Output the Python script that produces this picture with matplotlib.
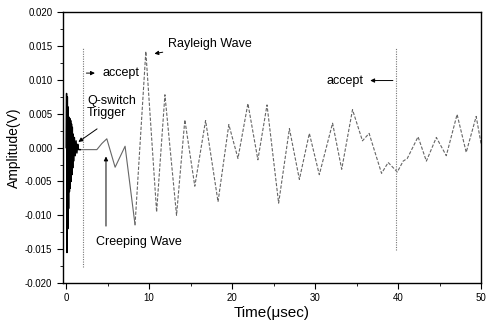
import matplotlib
matplotlib.use("Agg")
import matplotlib.pyplot as plt
from matplotlib.ticker import MultipleLocator, FormatStrFormatter

plt.rcParams['font.family'] = ['Liberation Sans', 'DejaVu Sans']
plt.rcParams['axes.unicode_minus'] = False

# Laser-triggered burst (Q-switch trigger)
burst_t = [0.0, 0.05, 0.1, 0.15, 0.2, 0.25, 0.3, 0.35, 0.4, 0.45, 0.5, 0.55, 0.6,
           0.65, 0.7, 0.75, 0.8, 0.85, 0.9, 1.0, 1.1, 1.2, 1.3, 1.4, 1.5, 1.7]
burst_a = [0.0, 0.008, -0.0155, 0.0075, -0.012, 0.006, -0.009, 0.0045, -0.0065, 0.0043,
           -0.006, 0.004, -0.005, 0.0035, -0.004, 0.003, -0.003, 0.002, -0.002, 0.0015,
           -0.0012, 0.001, -0.0008, 0.0005, -0.0003, -0.0003]

# Creeping wave segment
creep_t = [1.7, 3.7, 4.3, 4.9, 5.9, 7.1, 8.3]
creep_a = [-0.0003, -0.0003, 0.0006, 0.0013, -0.0029, 0.0002, -0.0114]

# Rayleigh wave and later signal (extrema)
wave_t = [8.3, 9.6, 10.9, 11.9, 13.3, 14.3, 15.5, 16.8, 18.3, 19.6, 20.7, 21.9, 23.1,
          24.2, 25.6, 26.9, 28.1, 29.3, 30.5, 32.1, 33.2, 34.5, 35.7, 36.5, 38.0, 38.8,
          39.9, 40.6, 41.1, 42.4, 43.4, 44.6, 45.8, 47.1, 48.2, 49.4, 50.0]
wave_a = [-0.0114, 0.0142, -0.0095, 0.0078, -0.0100, 0.0041, -0.0057, 0.0040, -0.0080,
          0.0034, -0.0016, 0.0065, -0.0018, 0.0063, -0.0082, 0.0028, -0.0047, 0.0021,
          -0.0040, 0.0036, -0.0032, 0.0056, 0.0010, 0.0021, -0.0038, -0.0022, -0.0036,
          -0.0020, -0.0016, 0.0016, -0.0020, 0.0015, -0.0012, 0.0049, -0.0007, 0.0046,
          0.0005]

accept_x = [2.0, 39.8]
accept_lo = [-0.0177, -0.0151]
accept_hi = [0.0147, 0.0147]

fig = plt.figure(figsize=(4.87, 3.28), dpi=100)
ax = fig.add_axes([0.129, 0.137, 0.859, 0.826])

ax.plot(creep_t, creep_a, color='#666666', lw=0.8)
ax.plot(wave_t, wave_a, color='#666666', lw=0.8, linestyle=(0, (3, 1.5)))
ax.plot(burst_t, burst_a, color='black', lw=1.0)

for x, lo, hi in zip(accept_x, accept_lo, accept_hi):
    ax.vlines(x, lo, hi, colors='#777777', linestyles=(0, (1, 1.2)), lw=0.8)

ax.set_xlim(-0.4, 50)
ax.set_ylim(-0.020, 0.020)
ax.xaxis.set_major_locator(MultipleLocator(10))
ax.xaxis.set_minor_locator(MultipleLocator(5))
ax.yaxis.set_major_locator(MultipleLocator(0.005))
ax.yaxis.set_minor_locator(MultipleLocator(0.0025))
ax.yaxis.set_major_formatter(FormatStrFormatter('%.3f'))
ax.tick_params(which='major', direction='out', length=4, width=0.8, labelsize=7)
ax.tick_params(which='minor', direction='out', length=2, width=0.6)
for s in ax.spines.values():
    s.set_linewidth(1.0)

ax.set_xlabel('Time(\u03bcsec)', fontsize=11, labelpad=2)
ax.set_ylabel('Amplitude(V)', fontsize=10, labelpad=3)

arrow = dict(arrowstyle='-|>', color='black', lw=0.7, mutation_scale=6)
ax.annotate('accept', xy=(4.0, 0.0110), xytext=(4.4, 0.0110), fontsize=9,
            va='center', ha='left')
ax.annotate('', xy=(3.8, 0.0110), xytext=(2.1, 0.0110), arrowprops=arrow)
ax.annotate('accept', xy=(36.5, 0.0099), xytext=(35.8, 0.0099), fontsize=9,
            va='center', ha='right')
ax.annotate('', xy=(36.3, 0.0099), xytext=(39.7, 0.0099), arrowprops=arrow)
ax.annotate('Rayleigh Wave', xy=(10.3, 0.0138), xytext=(12.3, 0.0153), fontsize=9,
            va='center', ha='left', arrowprops=arrow)
ax.annotate('Q-switch\nTrigger', xy=(1.2, 0.0006), xytext=(2.5, 0.0060), fontsize=9,
            va='center', ha='left', linespacing=1.05)
ax.annotate('', xy=(1.2, 0.0006), xytext=(4.0, 0.0030), arrowprops=arrow)
ax.annotate('Creeping Wave', xy=(4.8, -0.0009), xytext=(3.6, -0.0139), fontsize=9,
            va='center', ha='left')
ax.annotate('', xy=(4.8, -0.0009), xytext=(4.8, -0.0120), arrowprops=arrow)

fig.savefig('out.png', dpi=100)
